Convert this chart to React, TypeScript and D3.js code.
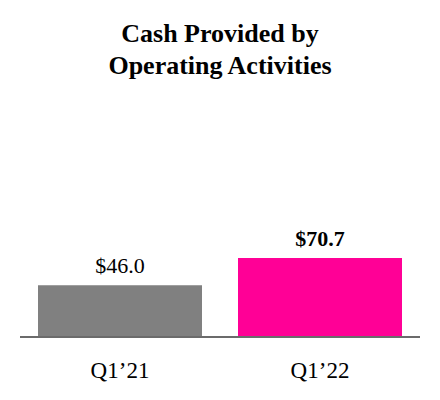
import React from "react";
import * as d3 from "d3";

const categories = ["Q1\u201921", "Q1\u201922"];
const values = [46.0, 70.7];
const valueLabels = ["$46.0", "$70.7"];
const titleLines = ["Cash Provided by", "Operating Activities"];

const colors = ["#808080", "#FF0096"];
const font = "'Liberation Serif', 'Times New Roman', serif";

export default function App() {
  const W = 440, H = 400;
  const baseY = 336;
  const x = d3.scaleBand<string>().domain(categories).range([20, 420]).paddingInner(0.18).paddingOuter(0.09);
  const y = d3.scaleLinear().domain([0, 70.7]).range([baseY, 258]);
  return (
    <svg width={W} height={H} style={{ position: "absolute", left: 0, top: 0, background: "#fff" }} fontFamily={font}>
      {titleLines.map((t, i) => (
        <text key={i} x={220} y={42 + i * 32} textAnchor="middle" fontWeight="bold" fontSize={26} fill="#000">{t}</text>
      ))}
      {categories.map((c, i) => (
        <g key={c}>
          <rect x={x(c)} y={y(values[i])} width={x.bandwidth()} height={baseY - y(values[i])} fill={colors[i]} />
          <text x={(x(c) as number) + x.bandwidth() / 2} y={y(values[i]) - 12} textAnchor="middle" fontSize={22}
            fontWeight={i === 1 ? "bold" : "normal"} fill="#000">{valueLabels[i]}</text>
          <text x={(x(c) as number) + x.bandwidth() / 2} y={378} textAnchor="middle" fontSize={23} fill="#000">{c}</text>
        </g>
      ))}
      <line x1={20} x2={420} y1={baseY + 1} y2={baseY + 1} stroke="#6b6b6b" strokeWidth={2} />
    </svg>
  );
}
